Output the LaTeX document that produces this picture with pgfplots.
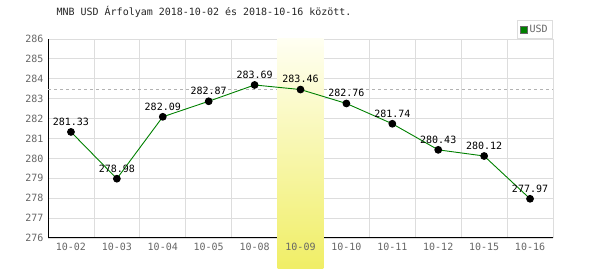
\documentclass[border=0pt]{standalone}
\usepackage{fontspec}
\setmainfont{DejaVu Sans Mono}
\usepackage{pgfplots}
\pgfplotsset{compat=1.18}
\definecolor{tickgray}{HTML}{666666}
\definecolor{gridgray}{HTML}{DDDDDD}
\definecolor{linegreen}{HTML}{008000}
\definecolor{bandtop}{HTML}{FFFFF2}
\definecolor{bandbot}{HTML}{F0EE66}
\begin{document}
\begin{tikzpicture}[x=1pt,y=1pt]
\path[use as bounding box] (0,0) rectangle (600,270);
\begin{axis}[
  at={(48pt,32pt)}, anchor=south west,
  scale only axis, width=505pt, height=199pt,
  xmin=-0.5, xmax=10.5, ymin=276, ymax=286,
  clip=false,
  axis lines*=left,
  axis line style={black, line width=1pt, -},
  xtick={0,...,10},
  xticklabels={10-02,10-03,10-04,10-05,10-08,,10-10,10-11,10-12,10-15,10-16},
  minor xtick={0.5,1.5,...,10.5},
  xminorgrids=true, xmajorgrids=false,
  ytick={276,...,286},
  ymajorgrids=true,
  grid style={gridgray, line width=0.8pt},
  minor grid style={gridgray, line width=0.8pt},
  major tick length=0pt, minor tick length=0pt,
  tick label style={font=\fontsize{10}{12}\selectfont, text=tickgray},
  /pgf/number format/assume math mode=true,
  yticklabel style={xshift=-1pt},
  xticklabel style={yshift=-2pt},
  title={MNB USD Árfolyam 2018-10-02 és 2018-10-16 között.},
  title style={at={(0,1)}, anchor=base west, xshift=5pt, yshift=17pt, font=\fontsize{10}{12}\selectfont, text=black!85},
  legend style={at={(1,1)}, anchor=south east, draw=gridgray, line width=0.8pt, fill=white,
    font=\fontsize{10}{12}\selectfont, text=tickgray, inner xsep=3pt, inner ysep=2.5pt,
    legend cell align=left, /tikz/every even column/.append style={column sep=1pt}},
  legend image code/.code={\draw[fill=linegreen, draw=tickgray, line width=0.6pt] (0pt,-3.5pt) rectangle (7pt,3.5pt);},
]
\addplot[gray!60, dashed, line width=0.8pt, forget plot] coordinates {(-0.5,283.46) (10.5,283.46)};
\fill[top color=bandtop, bottom color=bandbot] (axis cs:4.5,286) rectangle (axis cs:5.5,274.49);
\node[anchor=north, yshift=-2pt, font=\fontsize{10}{12}\selectfont, text=tickgray] at (axis cs:5,276) {10-09};
\addplot[linegreen, line width=0.9pt, mark=*, mark size=3.4pt,
  mark options={fill=black, draw=black},
  nodes near coords,
  every node near coord/.append style={font=\fontsize{10}{12}\selectfont, text=black, anchor=south, inner sep=1pt, yshift=5pt,
    /pgf/number format/.cd, fixed, fixed zerofill, precision=2, assume math mode=true},
] coordinates {
(0,281.33) (1,278.98) (2,282.09) (3,282.87) (4,283.69) (5,283.46)
(6,282.76) (7,281.74) (8,280.43) (9,280.12) (10,277.97)
};
\addlegendentry{USD}
\end{axis}
\end{tikzpicture}
\end{document}
